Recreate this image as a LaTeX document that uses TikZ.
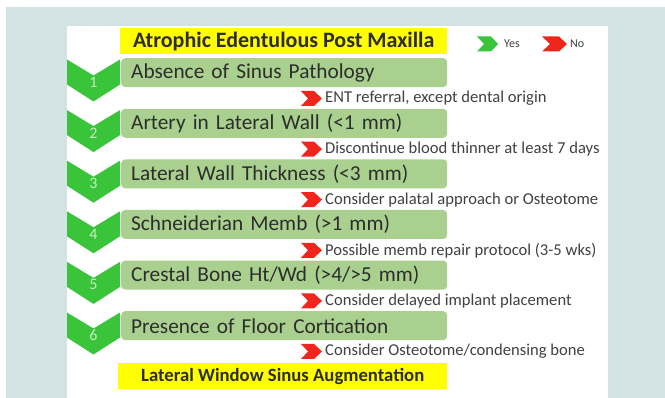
\documentclass[tikz,border=0pt]{standalone}
\usepackage{fontspec}
\setmainfont{Carlito}
\definecolor{bgblue}{RGB}{211,226,226}
\definecolor{chevgreen}{RGB}{58,196,58}
\definecolor{numgreen}{RGB}{200,238,195}
\definecolor{boxgreen}{RGB}{169,208,142}
\definecolor{nored}{RGB}{240,38,28}
\definecolor{titleyellow}{RGB}{255,255,0}
\definecolor{darktext}{RGB}{45,45,45}
\definecolor{greytext}{RGB}{65,65,65}
\begin{document}
\begin{tikzpicture}[x=1pt,y=-1pt,
  gbox/.style={anchor=north west, fill=boxgreen, rounded corners=4pt,
    minimum width=326pt, minimum height=29pt, text width=306pt, inner xsep=10pt,
    inner ysep=0pt, align=left, text=darktext, font=\fontsize{21.3}{24}\selectfont},
  ybox/.style={fill=titleyellow, text=darktext, inner sep=0pt, align=center},
  numlabel/.style={text=numgreen, font=\fontsize{16}{18}\selectfont, inner sep=0pt},
  nolabel/.style={anchor=west, text=greytext, inner sep=0pt, font=\fontsize{16.6}{18}\selectfont},
  leglabel/.style={anchor=west, text=greytext, inner sep=0pt, font=\fontsize{12}{14}\selectfont},
  gchev/.pic={\fill[chevgreen] (-26.5,0) -- (0,16) -- (26.5,0) -- (26.5,25) -- (0,42) -- (-26.5,25) -- cycle;},
  rchev/.pic={\fill[nored] (0,-7.5) -- (13,-7.5) -- (21,0) -- (13,7.5) -- (0,7.5) -- (7,0) -- cycle;},
  lgchev/.pic={\fill[chevgreen] (0,-7.5) -- (14,-7.5) -- (21,0) -- (14,7.5) -- (0,7.5) -- (7,0) -- cycle;},
  lrchev/.pic={\fill[nored] (0,-7.5) -- (17,-7.5) -- (25,0) -- (17,7.5) -- (0,7.5) -- (8,0) -- cycle;}
]
\useasboundingbox (0,0) rectangle (665,398);
\fill[white] (0,0) rectangle (665,398);
\fill[bgblue] (6,7) rectangle (665,398);
\fill[white] (67,26) rectangle (608,398);

% title
\node[ybox, minimum width=327pt, minimum height=26pt, anchor=north west,
  font=\bfseries\fontsize{22}{24}\selectfont] (title) at (120,28) {Atrophic Edentulous Post Maxilla};

% legend
\pic at (477,44) {lgchev};
\node[leglabel] (yes) at (504,44) {Yes};
\pic at (542,44) {lrchev};
\node[leglabel] (no) at (570,44) {No};

% chevrons
\pic at (93.5,59.5) {gchev};
\pic at (93.5,110.1) {gchev};
\pic at (93.5,160.7) {gchev};
\pic at (93.5,211.3) {gchev};
\pic at (93.5,261.9) {gchev};
\pic at (93.5,312.5) {gchev};
\node[numlabel] (n1) at (93.5,82.5) {1};
\node[numlabel] (n2) at (93.5,133) {2};
\node[numlabel] (n3) at (93.5,183.7) {3};
\node[numlabel] (n4) at (93.5,234.3) {4};
\node[numlabel] (n5) at (93.5,284.9) {5};
\node[numlabel] (n6) at (93.5,335.5) {6};

% green boxes
\node[gbox] (r1) at (121,58) {Absence of Sinus Pathology};
\node[gbox] (r2) at (121,108.6) {Artery in Lateral Wall (<1 mm)};
\node[gbox] (r3) at (121,159.2) {Lateral Wall Thickness (<3 mm)};
\node[gbox] (r4) at (121,209.8) {Schneiderian Memb (>1 mm)};
\node[gbox] (r5) at (121,260.4) {Crestal Bone Ht/Wd (>4/>5 mm)};
\node[gbox] (r6) at (121,311) {Presence of Floor Cortication};

% no branches
\pic at (301,98.5) {rchev};
\pic at (301,149.1) {rchev};
\pic at (301,199.7) {rchev};
\pic at (301,250.3) {rchev};
\pic at (301,300.9) {rchev};
\pic at (301,351.5) {rchev};
\node[nolabel] (x1) at (325,98.5) {ENT referral, except dental origin};
\node[nolabel] (x2) at (325,149.1) {Discontinue blood thinner at least 7 days};
\node[nolabel] (x3) at (325,199.7) {Consider palatal approach or Osteotome};
\node[nolabel] (x4) at (325,250.3) {Possible memb repair protocol (3-5 wks)};
\node[nolabel] (x5) at (325,300.9) {Consider delayed implant placement};
\node[nolabel] (x6) at (325,351.5) {Consider Osteotome/condensing bone};

% final
\node[ybox, minimum width=329pt, minimum height=26pt, anchor=north west,
  font=\bfseries\fontsize{18.7}{20}\selectfont] (final) at (118,363) {Lateral Window Sinus Augmentation};
\end{tikzpicture}
\end{document}
